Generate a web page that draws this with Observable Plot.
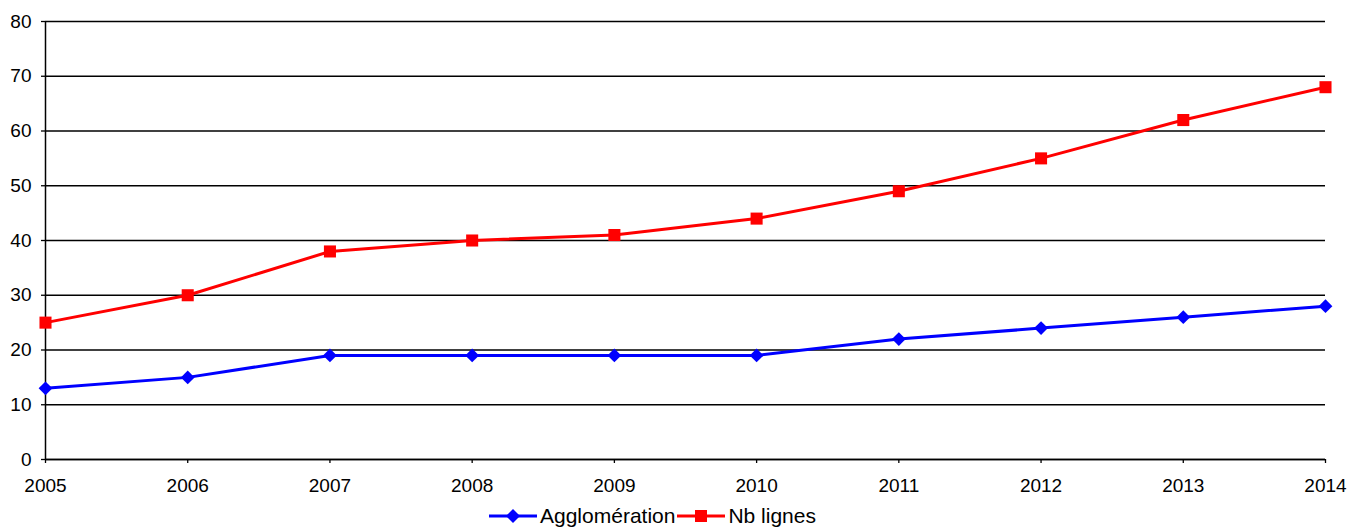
<!DOCTYPE html>
<html>
<head>
<meta charset="utf-8">
<script src="https://cdn.jsdelivr.net/npm/d3@7"></script>
<script src="https://cdn.jsdelivr.net/npm/@observablehq/plot@0.6"></script>
<style>
  body { margin: 0; background: #fff; font-family: "Liberation Sans", Arial, sans-serif; }
  #legend { display: flex; justify-content: center; align-items: center; height: 32px; font-size: 21px; color: #000; margin-left: -44px; }
  #legend .item { display: flex; align-items: center; margin: 0 1px; }
  #legend svg { margin-right: 3px; }
</style>
</head>
<body>
<div id="chart"></div>
<div id="legend"></div>
<script>
const years = [2005, 2006, 2007, 2008, 2009, 2010, 2011, 2012, 2013, 2014];
const agglomeration = [13, 15, 19, 19, 19, 19, 22, 24, 26, 28];
const nbLignes = [25, 30, 38, 40, 41, 44, 49, 55, 62, 68];
const yTicks = [0, 10, 20, 30, 40, 50, 60, 70, 80];
const seriesNames = ["Agglomération", "Nb lignes"];
const seriesColors = ["#0000ff", "#ff0000"];
const seriesSymbols = ["diamond2", "square"];

const rows = [];
years.forEach((y, i) => {
  rows.push({year: y, value: agglomeration[i], series: seriesNames[0]});
  rows.push({year: y, value: nbLignes[i], series: seriesNames[1]});
});
const aggRows = rows.filter(d => d.series === seriesNames[0]);
const nbRows = rows.filter(d => d.series === seriesNames[1]);

const chart = Plot.plot({
  width: 1349,
  height: 500,
  marginTop: 21,
  marginBottom: 41,
  marginLeft: 45,
  marginRight: 24,
  style: {fontFamily: "'Liberation Sans', Arial, sans-serif", fontSize: "19px", color: "#000", background: "#fff"},
  x: {domain: [years[0], years[years.length - 1]], ticks: years, tickFormat: d => String(d), label: null},
  y: {domain: [yTicks[0], yTicks[yTicks.length - 1]], ticks: yTicks, label: null},
  marks: [
    Plot.gridY(yTicks, {stroke: "#000", strokeOpacity: 1, strokeWidth: 1.3}),
    Plot.axisY(yTicks, {tickSize: 4, tickPadding: 10, stroke: "#000", strokeWidth: 1.3, fontSize: 19, label: null}),
    Plot.axisX(years, {tickSize: 4, tickPadding: 15, stroke: "#000", strokeWidth: 1.3, fontSize: 19, tickFormat: d => String(d), label: null}),
    Plot.ruleX([years[0]], {stroke: "#000", strokeWidth: 1.5}),
    Plot.ruleY([yTicks[0]], {stroke: "#000", strokeWidth: 1.5}),
    Plot.line(aggRows, {x: "year", y: "value", stroke: seriesColors[0], strokeWidth: 3}),
    Plot.line(nbRows, {x: "year", y: "value", stroke: seriesColors[1], strokeWidth: 3}),
    Plot.dot(aggRows, {x: "year", y: "value", fill: seriesColors[0], symbol: seriesSymbols[0], r: 6.2}),
    Plot.dot(nbRows, {x: "year", y: "value", fill: seriesColors[1], symbol: seriesSymbols[1], r: 6.8})
  ]
});
document.getElementById("chart").appendChild(chart);

const legend = document.getElementById("legend");
seriesNames.forEach((name, i) => {
  const item = document.createElement("div");
  item.className = "item";
  const sym = i === 0
    ? `<path d="M24,1 L31,8 L24,15 L17,8 Z" fill="${seriesColors[i]}"/>`
    : `<rect x="18" y="2" width="12" height="12" fill="${seriesColors[i]}"/>`;
  item.innerHTML = `<svg width="48" height="16"><line x1="0" x2="48" y1="8" y2="8" stroke="${seriesColors[i]}" stroke-width="3"/>${sym}</svg><span>${name}</span>`;
  legend.appendChild(item);
});
</script>
</body>
</html>
